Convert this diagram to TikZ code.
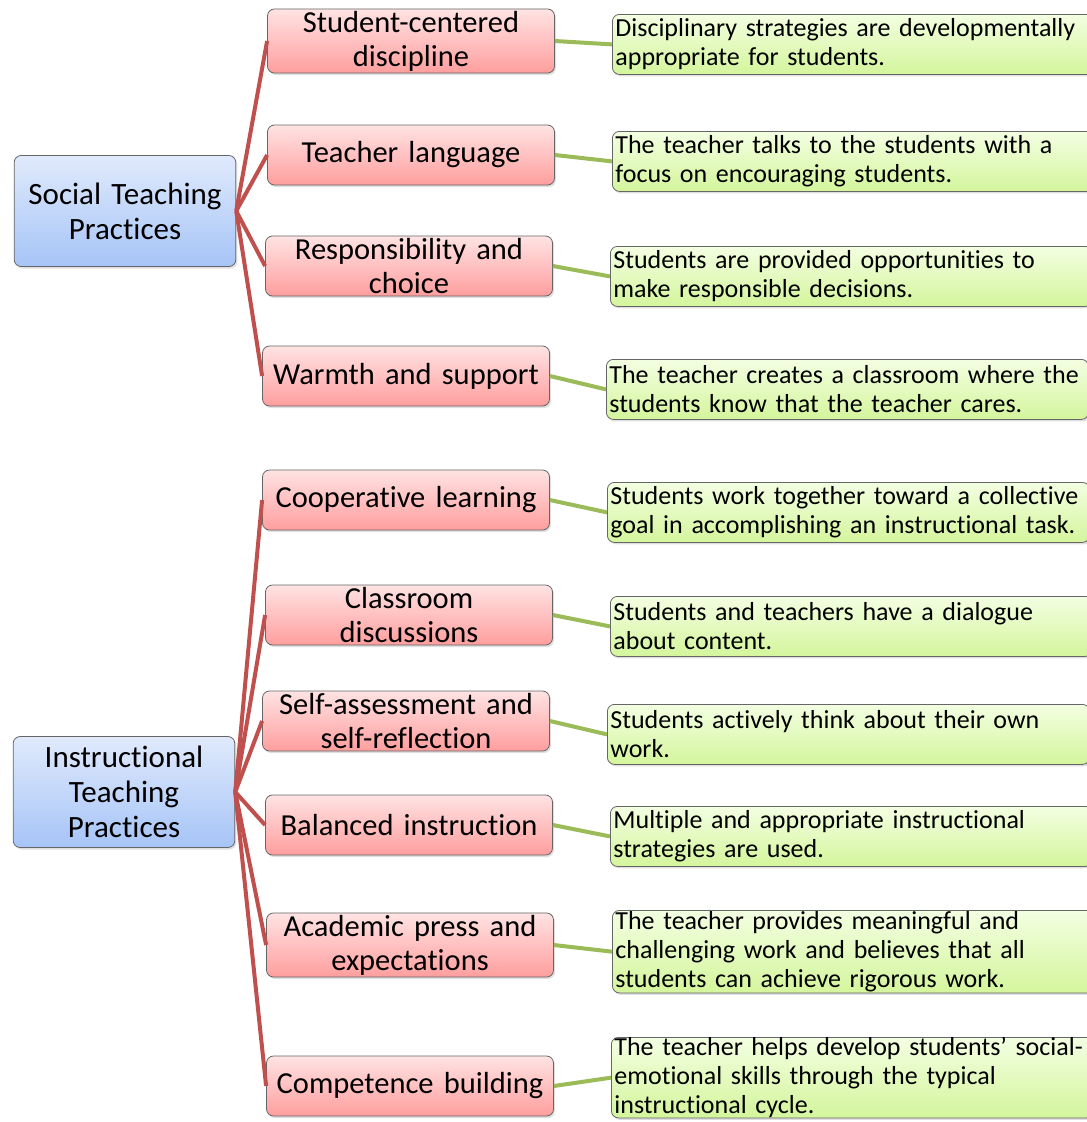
\documentclass[tikz,border=0pt]{standalone}
\usepackage{fontspec}
\setmainfont[Ligatures=NoCommon]{Carlito}
\usetikzlibrary{positioning, shadows}

\definecolor{redline}{HTML}{C0504D}
\definecolor{greenline}{HTML}{9BBB59}
\definecolor{bluetop}{HTML}{E0EAFC}
\definecolor{bluebot}{HTML}{A6C4F7}
\definecolor{redtop}{HTML}{FFE3E3}
\definecolor{redbot}{HTML}{FF9E9E}
\definecolor{greentop}{HTML}{F3FFE2}
\definecolor{greenbot}{HTML}{D4F59C}

\tikzset{
    box/.style={draw=black!60, rounded corners=7pt, line width=0.8pt,
        drop shadow={opacity=0.25, shadow xshift=1.5pt, shadow yshift=-2pt}},
    cat/.style={box, top color=bluetop, bottom color=bluebot,
        minimum width=220pt, minimum height=111pt, text width=215pt,
        align=center, font=\fontsize{31}{35}\selectfont},
    prac/.style={box, top color=redtop, bottom color=redbot,
        minimum width=287pt, minimum height=60pt, text width=283pt, inner sep=2pt,
        align=center, font=\fontsize{30.5}{34}\selectfont},
    desc/.style={box, top color=greentop, bottom color=greenbot,
        anchor=north west, minimum height=60pt, text width=476pt, inner xsep=3pt,
        inner ysep=1pt, align=left, font=\fontsize{26}{29}\selectfont},
    tie/.style={redline, line width=4pt},
    link/.style={greenline, line width=4pt}
}

\begin{document}
\begin{tikzpicture}[x=1pt, y=-1pt]
    \useasboundingbox (0,0) rectangle (1087,1122);

    \node[cat] (s) at (125,211) {Social Teaching\\Practices};
    \node[cat] (i) at (124,792) {Instructional\\Teaching\\Practices};

    \node[prac] (p_1) at (411,41) {Student-centered\\discipline};
    \node[prac] (p_2) at (411,155) {Teacher language};
    \node[prac] (p_3) at (409,266) {Responsibility and\\choice};
    \node[prac] (p_4) at (406,376) {Warmth and support};
    \node[prac] (p_5) at (406,500) {Cooperative learning};
    \node[prac] (p_6) at (409,615) {Classroom\\discussions};
    \node[prac] (p_7) at (406,721) {Self-assessment and\\self-reflection};
    \node[prac] (p_8) at (409,825) {Balanced instruction};
    \node[prac] (p_9) at (410,945) {Academic press and\\expectations};
    \node[prac] (p_10) at (410,1086) {Competence building};

    \node[desc] (d_1) at (612,14) {Disciplinary strategies are developmentally\\appropriate for students.};
    \node[desc] (d_2) at (612,131) {The teacher talks to the students with a\\focus on encouraging students.};
    \node[desc] (d_3) at (610,246) {Students are provided opportunities to\\make responsible decisions.};
    \node[desc] (d_4) at (606,359) {The teacher creates a classroom where the\\students know that the teacher cares.};
    \node[desc] (d_5) at (607,482) {Students work together toward a collective\\goal in accomplishing an instructional task.};
    \node[desc] (d_6) at (610,596) {Students and teachers have a dialogue\\about content.};
    \node[desc] (d_7) at (607,704) {Students actively think about their own\\work.};
    \node[desc] (d_8) at (610,806) {Multiple and appropriate instructional\\strategies are used.};
    \node[desc] (d_9) at (612,910) {The teacher provides meaningful and\\challenging work and believes that all\\students can achieve rigorous work.};
    \node[desc, inner ysep=0pt] (d_10) at (611,1037) {The teacher helps develop students’ social-\\emotional skills through the typical\\instructional cycle.};

    \path[tie]
    (s.east)    edge (p_1.west)
                edge (p_2.west)
                edge (p_3.west)
                edge (p_4.west)
    (i.east)    edge (p_5.west)
                edge (p_6.west)
                edge (p_7.west)
                edge (p_8.west)
                edge (p_9.west)
                edge (p_10.west);

    \path[link]
    (p_1.east) edge (d_1.west)
    (p_2.east) edge (d_2.west)
    (p_3.east) edge (d_3.west)
    (p_4.east) edge (d_4.west)
    (p_5.east) edge (d_5.west)
    (p_6.east) edge (d_6.west)
    (p_7.east) edge (d_7.west)
    (p_8.east) edge (d_8.west)
    (p_9.east) edge (d_9.west)
    (p_10.east) edge (d_10.west);

\end{tikzpicture}
\end{document}
